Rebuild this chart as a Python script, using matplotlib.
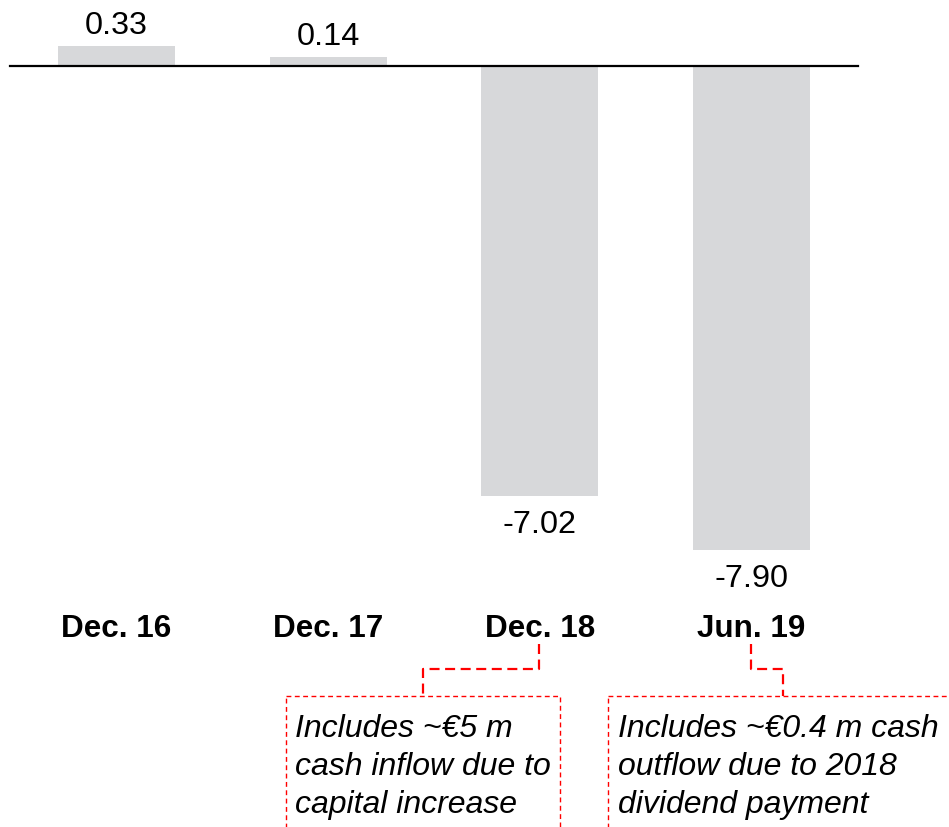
import matplotlib
matplotlib.use("Agg")
import matplotlib.pyplot as plt
from matplotlib.patches import Rectangle

# ---- data ----
categories = ["Dec. 16", "Dec. 17", "Dec. 18", "Jun. 19"]
values = [0.33, 0.14, -7.02, -7.90]
value_labels = ["0.33", "0.14", "-7.02", "-7.90"]
note_dec18 = ["Includes ~€5 m", "cash inflow due to", "capital increase"]
note_jun19 = ["Includes ~€0.4 m cash", "outflow due to 2018", "dividend payment"]

# ---- layout (pixel based) ----
W, H = 949, 827
DPI = 100
x0_px, dx_px = 116.5, 211.7     # centre of first bar, bar spacing
zero_px, unit_px = 66.0, 61.3   # zero line y, pixels per unit

plt.rcParams['font.family'] = ['Liberation Sans', 'DejaVu Sans']

fig = plt.figure(figsize=(W / DPI, H / DPI), dpi=DPI)
ax = fig.add_axes([0, 0, 1, 1])
ax.set_xlim((0 - x0_px) / dx_px, (W - x0_px) / dx_px)
ax.set_ylim(-(H - zero_px) / unit_px, zero_px / unit_px)
ax.axis("off")

xs = list(range(len(categories)))
bar_color = "#d7d8da"
ax.bar(xs, values, width=117 / dx_px, color=bar_color, zorder=1)

# zero line
ax.axhline(0, xmin=10 / W, xmax=858 / W, color="black", lw=1.6, zorder=3)

# value labels
for x, v, lab in zip(xs, values, value_labels):
    if v >= 0:
        off = 12 * 0.72
    else:
        off = -37 * 0.72
    ax.annotate(lab, (x, v), xytext=(0, off), textcoords="offset points",
                ha="center", va="baseline", fontsize=23.3, color="black")

# pixel overlay axes for labels/annotations
ov = fig.add_axes([0, 0, 1, 1])
ov.set_xlim(0, W)
ov.set_ylim(H, 0)
ov.axis("off")
ov.patch.set_alpha(0)

for x, c in zip(xs, categories):
    ov.text(x0_px + x * dx_px, 637, c, ha="center", va="baseline",
            fontsize=22.6, fontweight="bold", color="black")

red = "#ff0000"
conn_kw = dict(color=red, lw=1.6, dashes=(4.5, 2.5), solid_capstyle="butt")
box_kw = dict(edgecolor=red, facecolor="none", lw=1.0, linestyle=(0, (3.5, 2.5)))

# Dec. 18 note
ov.plot([539.5, 539.5, 423.5, 423.5], [644, 669, 669, 696], **conn_kw)
ov.add_patch(Rectangle((286, 696), 560 - 286, 200, **box_kw))
for i, line in enumerate(note_dec18):
    ov.text(295, 737 + i * 38, line, ha="left", va="baseline",
            fontsize=23, fontstyle="italic", color="black")

# Jun. 19 note
ov.plot([751.5, 751.5, 783.5, 783.5], [644, 669, 669, 696], **conn_kw)
ov.add_patch(Rectangle((608.5, 696), 400, 200, **box_kw))
for i, line in enumerate(note_jun19):
    ov.text(618, 737 + i * 38, line, ha="left", va="baseline",
            fontsize=23, fontstyle="italic", color="black")

fig.savefig("out.png", dpi=DPI)
